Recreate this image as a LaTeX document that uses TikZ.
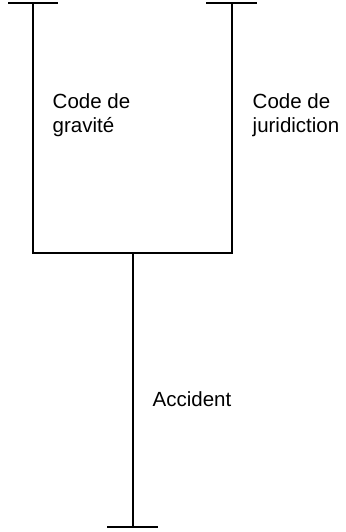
\documentclass[tikz,border=0pt]{standalone}
\usepackage{fontspec}
\setmainfont{Liberation Sans}
\begin{document}
\begin{tikzpicture}[x=1pt,y=-1pt,
  bar/.style={line width=1.6pt, line cap=butt},
  lbl/.style={anchor=base west, inner sep=0pt, align=left, font=\fontsize{20.5}{24}\selectfont}]
\useasboundingbox (0,0) rectangle (345,532);
% coordinates
\coordinate (LT) at (33,3);
\coordinate (LTa) at (8,3);
\coordinate (LTb) at (58,3);
\coordinate (LB) at (33,253);
\coordinate (RT) at (232,3);
\coordinate (RTa) at (206,3);
\coordinate (RTb) at (257,3);
\coordinate (RB) at (232,253);
\coordinate (M) at (133,253);
\coordinate (MB) at (133,527);
\coordinate (MBa) at (107,527);
\coordinate (MBb) at (158,527);
% lines
\draw[bar] (LTa) -- (LTb);
\draw[bar] (RTa) -- (RTb);
\draw[bar, line join=miter] (LT) -- (LB) -- (RB) -- (RT);
\draw[bar] (M) -- (MB);
\draw[bar] (MBa) -- (MBb);
% labels (base = baseline of last line)
\node[lbl] (grav) at (52.5,132) {Code de\\gravité};
\node[lbl] (jur) at (252.5,132) {Code de\\juridiction};
\node[lbl] (acc) at (152.5,406) {Accident};
\end{tikzpicture}
\end{document}
